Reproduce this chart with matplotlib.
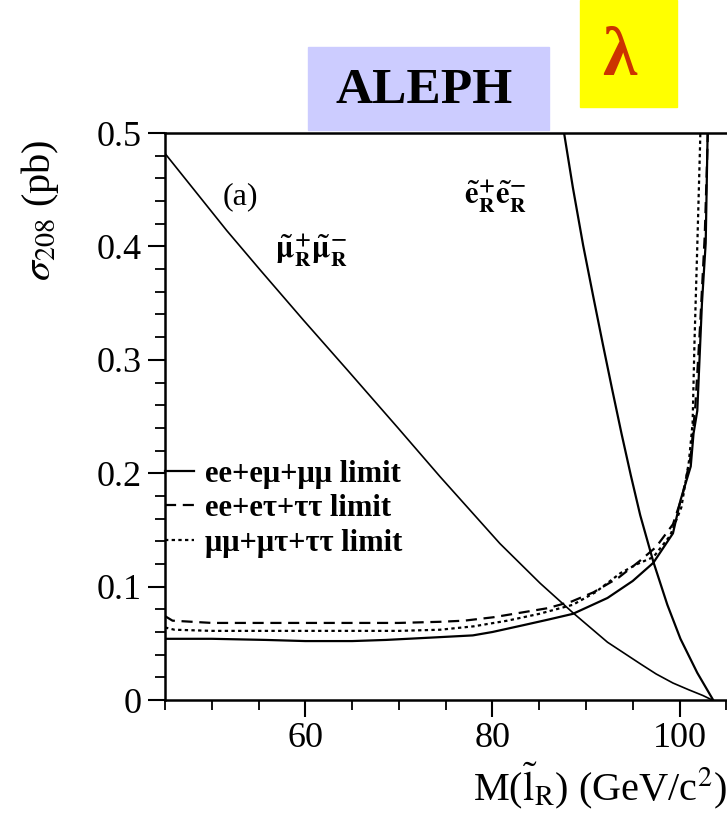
import numpy as np
import matplotlib
matplotlib.use('Agg')
import matplotlib.pyplot as plt
from matplotlib.patches import Rectangle
from matplotlib.ticker import MultipleLocator

plt.rcParams['font.family'] = ['Liberation Serif', 'DejaVu Serif']
plt.rcParams['mathtext.fontset'] = 'stix'

# smuon pair cross section (solid, decreasing)
mu_mass = [45, 51.6, 55.2, 59.8, 64.5, 69.9, 74.4, 80.8, 85.1, 88.6, 92.3, 95.8, 97.5, 99.3, 101.0, 102.5, 103.5]
mu_xsec = [0.482, 0.414, 0.379, 0.335, 0.291, 0.240, 0.197, 0.138, 0.103, 0.077, 0.051, 0.032, 0.023, 0.015, 0.009, 0.004, 0.0]

# selectron pair cross section (solid, steep)
e_mass = [87.0, 87.7, 88.6, 89.7, 90.8, 91.8, 92.8, 93.8, 94.8, 95.8, 97.2, 98.7, 100.1, 101.9, 103.6]
e_xsec = [0.535, 0.498, 0.452, 0.401, 0.355, 0.314, 0.274, 0.235, 0.198, 0.163, 0.122, 0.084, 0.054, 0.024, 0.0]

# upper limits
lim_ee_mu_mass = [45, 50, 55.8, 60, 65, 68.6, 73.3, 77.9, 80, 83.3, 86, 88.6, 92.3, 95, 97.2, 99.3,
                  100.1, 101.2, 101.5, 101.9, 102.4, 102.8, 103.0, 103.1]
lim_ee_mu_xsec = [0.054, 0.054, 0.053, 0.052, 0.052, 0.053, 0.055, 0.057, 0.060, 0.066, 0.071, 0.076, 0.090, 0.105, 0.121, 0.147,
                  0.176, 0.206, 0.235, 0.255, 0.35, 0.403, 0.497, 0.53]

lim_ee_tau_mass = [45, 45.8, 50, 55, 60, 65, 70, 74.4, 77, 80.1, 83, 85.9, 88.5, 90.8, 93.5, 95.8, 97.5, 99.3,
                   100.3, 101.2, 101.7, 102.2, 102.7, 103.0, 103.1]
lim_ee_tau_xsec = [0.074, 0.070, 0.068, 0.068, 0.068, 0.068, 0.068, 0.069, 0.070, 0.073, 0.077, 0.081, 0.087, 0.095, 0.108, 0.123, 0.135, 0.155,
                   0.180, 0.215, 0.26, 0.33, 0.41, 0.49, 0.53]

lim_mu_tau_mass = [45, 46, 50, 55, 60, 65, 70, 74.4, 78, 81.6, 85, 88.6, 91, 93.7, 95.5, 97.2, 99,
                   100.2, 101, 101.4, 101.6, 101.9, 102.2, 102.3]
lim_mu_tau_xsec = [0.064, 0.062, 0.061, 0.061, 0.061, 0.061, 0.061, 0.062, 0.065, 0.070, 0.076, 0.084, 0.095, 0.112, 0.120, 0.126, 0.145,
                   0.170, 0.210, 0.244, 0.315, 0.40, 0.49, 0.53]

fig = plt.figure(figsize=(7.27, 8.26), dpi=100)
ax = fig.add_axes([0.227, 0.1525, 0.772, 0.6864])

ax.plot(mu_mass, mu_xsec, color='black', lw=1.2)
ax.plot(e_mass, e_xsec, color='black', lw=1.6)
ax.plot(lim_ee_mu_mass, lim_ee_mu_xsec, color='black', lw=1.6, ls='-', label='ee+eμ+μμ limit')
ax.plot(lim_ee_tau_mass, lim_ee_tau_xsec, color='black', lw=1.6, ls=(0, (5, 3)), label='ee+eτ+ττ limit')
ax.plot(lim_mu_tau_mass, lim_mu_tau_xsec, color='black', lw=1.6, ls=(0, (1.5, 1.5)), label='μμ+μτ+ττ limit')

ax.set_xlim(45, 105)
ax.set_ylim(0, 0.5)
ax.xaxis.set_major_locator(MultipleLocator(20))
ax.xaxis.set_minor_locator(MultipleLocator(5))
ax.yaxis.set_minor_locator(MultipleLocator(0.02))
ax.set_yticks([0, 0.1, 0.2, 0.3, 0.4, 0.5])
ax.set_yticklabels(['0', '0.1', '0.2', '0.3', '0.4', '0.5'])
ax.tick_params(which='major', direction='out', length=12, width=1.5, labelsize=26)
ax.tick_params(which='minor', direction='out', length=7, width=1.3)
ax.tick_params(axis='y', pad=5)
ax.tick_params(axis='x', pad=4)
for s in ['left', 'bottom', 'top']:
    ax.spines[s].set_linewidth(1.8)
ax.spines['right'].set_visible(False)

ax.legend(loc='upper left', bbox_to_anchor=(0.0, 0.424), frameon=False,
          prop={'size': 22, 'weight': 'bold'}, handlelength=0.95, handletextpad=0.35,
          borderpad=0, borderaxespad=0, labelspacing=0.18)

ax.text(53.1, 0.444, '(a)', fontsize=23, ha='center', va='center')
ax.text(60.7, 0.397, r'$\mathbf{\tilde{\mu}^{+}_{R}\tilde{\mu}^{-}_{R}}$', fontsize=22, ha='center', va='center')
ax.text(80.3, 0.444, r'$\mathbf{\tilde{e}^{+}_{R}\tilde{e}^{-}_{R}}$', fontsize=22, ha='center', va='center')

fig.text(40 / 727, 1 - 210 / 826, r'$\sigma_{208}$ (pb)', rotation=90, fontsize=29, ha='center', va='center')
fig.text(1.0, 1 - 786 / 826, r'M($\tilde{\mathrm{l}}_{\mathrm{R}}$) (GeV/c$^{2}$)', fontsize=29, ha='right', va='center')

# header boxes
fig.patches.append(Rectangle((308 / 727, 1 - 130 / 826), 241 / 727, 83 / 826,
                             transform=fig.transFigure, color='#ccccff', zorder=0))
fig.text(424 / 727, 1 - 91 / 826, 'ALEPH', fontsize=37, fontweight='bold', ha='center', va='center')
fig.patches.append(Rectangle((580 / 727, 1 - 107 / 826), 97 / 727, 107 / 826,
                             transform=fig.transFigure, color='#ffff00', zorder=0))
fig.text(619 / 727, 1 - 58 / 826, 'λ', fontsize=50, fontweight='bold', color='#cc3300', ha='center', va='center')

fig.savefig('out.png', dpi=100)
